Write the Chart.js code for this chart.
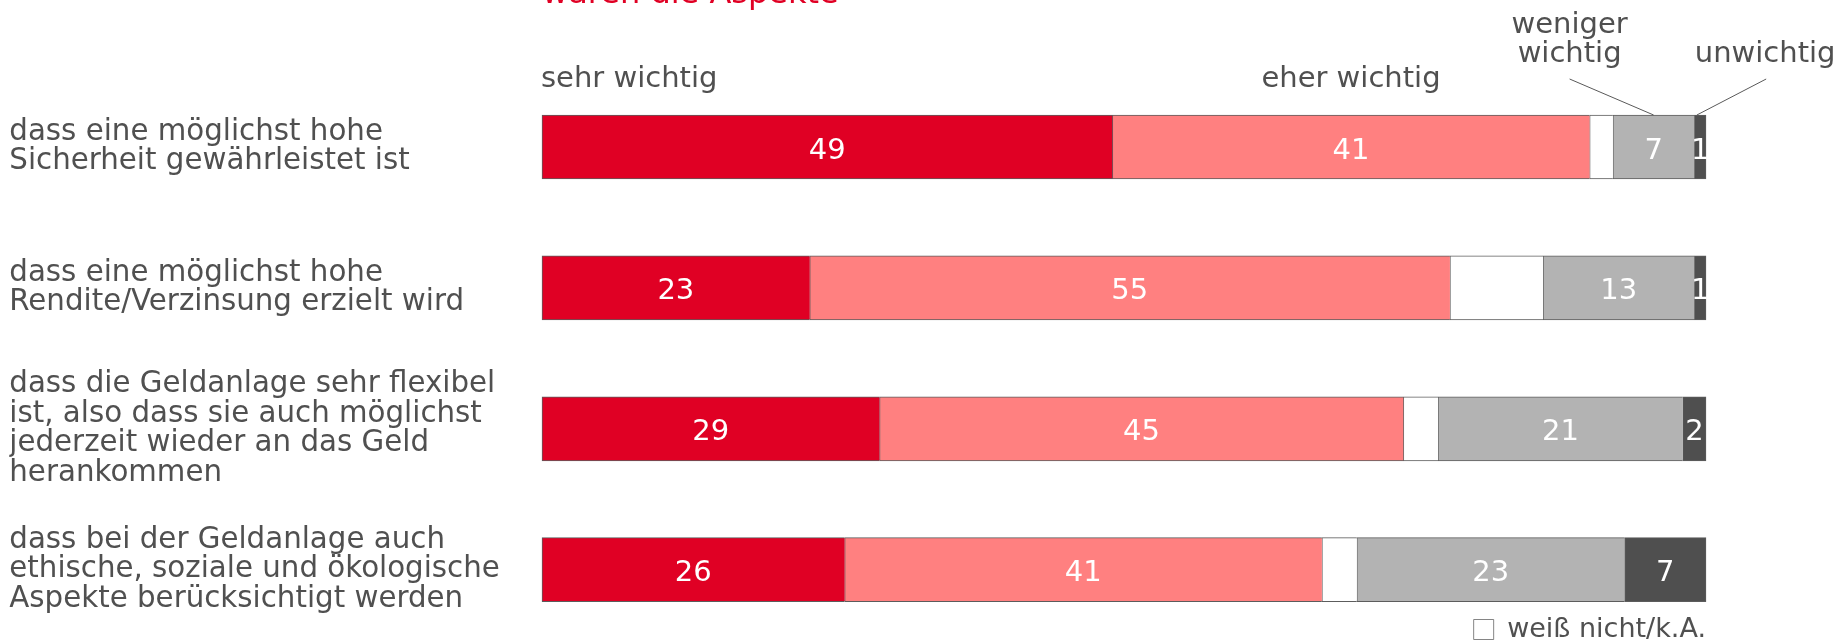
<!DOCTYPE html>
<html lang="de">
<head>
<meta charset="utf-8">
<title>Wichtigkeit der Aspekte bei der Geldanlage</title>
<script src="https://cdn.jsdelivr.net/npm/chart.js@4/dist/chart.umd.min.js"></script>
<style>
  html, body { margin: 0; padding: 0; background: #ffffff; overflow: hidden; width: 1839px; height: 642px; }
  /* the canvas starts above the page edge, so the first title line stays cut off */
  #wrap { position: absolute; left: 0; top: -40px; width: 1839px; height: 700px; }
</style>
</head>
<body>
<div id="wrap"><canvas id="chart" width="1839" height="700"></canvas></div>
<script>
// ---- data ----
const categories = [
  ['dass eine möglichst hohe', 'Sicherheit gewährleistet ist'],
  ['dass eine möglichst hohe', 'Rendite/Verzinsung erzielt wird'],
  ['dass die Geldanlage sehr flexibel', 'ist, also dass sie auch möglichst', 'jederzeit wieder an das Geld', 'herankommen'],
  ['dass bei der Geldanlage auch', 'ethische, soziale und ökologische', 'Aspekte berücksichtigt werden']
];
const seriesNames = ['sehr wichtig', 'eher wichtig', 'weiß nicht/k.A.', 'weniger wichtig', 'unwichtig'];
const sehrWichtig    = [49, 23, 29, 26];
const eherWichtig    = [41, 55, 45, 41];
const weissNicht     = [2, 8, 3, 3];
const wenigerWichtig = [7, 13, 21, 23];
const unwichtig      = [1, 1, 2, 7];
const titleText = 'waren die Aspekte';

// ---- styles ----
const FONT = '"DejaVu Sans", Verdana, sans-serif';
const TEXT = '#505050';
const EDGE = '#5c5c5c';
const colors = ['#E00024', '#FF8080', '#FFFFFF', '#B3B3B3', '#4F4F4F'];

Chart.defaults.font.family = FONT;
Chart.defaults.color = TEXT;

// value labels inside the segments, series headers and leader lines
const segmentAnnotations = {
  id: 'segmentAnnotations',
  afterDatasetsDraw(chart) {
    const ctx = chart.ctx;
    ctx.save();

    ctx.font = '29px ' + FONT;
    ctx.fillStyle = '#FFFFFF';
    ctx.textAlign = 'center';
    ctx.textBaseline = 'alphabetic';
    chart.data.datasets.forEach((ds, di) => {
      if (ds.showValues === false) return;
      chart.getDatasetMeta(di).data.forEach((bar, i) => {
        const cx = (bar.x + bar.base) / 2;
        ctx.fillText(String(ds.data[i]), cx, bar.y + 11.5);
      });
    });

    const firstBar = di => chart.getDatasetMeta(di).data[0];
    const mid = b => (b.x + b.base) / 2;
    const top = b => b.y - b.height / 2;

    ctx.fillStyle = TEXT;
    ctx.font = '29px ' + FONT;

    const b0 = firstBar(0);
    ctx.textAlign = 'left';
    ctx.fillText(seriesNames[0], b0.base - 1, top(b0) - 28);

    const b1 = firstBar(1);
    ctx.textAlign = 'center';
    ctx.fillText(seriesNames[1], mid(b1), top(b1) - 28);

    const b3 = firstBar(3);
    const wx = mid(b3) - 84;
    ctx.fillText('weniger', wx, top(b3) - 81.7);
    ctx.fillText('wichtig', wx, top(b3) - 53.3);

    const b4 = firstBar(4);
    const ux = mid(b4) + 65;
    ctx.fillText(seriesNames[4], ux, top(b4) - 53.3);

    ctx.strokeStyle = '#595959';
    ctx.lineWidth = 1;
    ctx.beginPath();
    ctx.moveTo(wx, top(b3) - 36);
    ctx.lineTo(mid(b3), top(b3));
    ctx.moveTo(ux + 1, top(b4) - 36);
    ctx.lineTo(b4.base + 2.5, top(b4));
    ctx.stroke();

    ctx.restore();
  }
};

const seriesData = [sehrWichtig, eherWichtig, weissNicht, wenigerWichtig, unwichtig];

new Chart(document.getElementById('chart'), {
  type: 'bar',
  data: {
    labels: categories,
    datasets: seriesData.map((values, i) => ({
      label: seriesNames[i],
      data: values,
      backgroundColor: colors[i],
      borderColor: EDGE,
      borderWidth: { top: 1, bottom: 1, left: 1, right: i === 4 ? 1 : 0 },
      borderSkipped: false,
      barThickness: 64,
      clip: false,
      showValues: i !== 2
    }))
  },
  options: {
    indexAxis: 'y',
    responsive: false,
    animation: false,
    events: [],
    layout: { padding: { top: 0, left: 9.3, right: 133, bottom: 7 } },
    scales: {
      x: {
        stacked: true,
        min: 0,
        max: 100,
        grid: { display: false },
        border: { display: false },
        ticks: { display: false },
        afterFit: s => { s.height = 46.3; }
      },
      y: {
        stacked: true,
        offset: false,
        grid: { display: false },
        border: { display: false },
        ticks: {
          autoSkip: false,
          crossAlign: 'far',
          color: TEXT,
          font: { family: FONT, size: 29.3, lineHeight: '29.5px' }
        },
        afterFit: s => { s.width = 532.7; }
      }
    },
    plugins: {
      title: {
        display: true,
        text: titleText,
        align: 'start',
        fullSize: false,
        color: '#E00024',
        font: { family: FONT, size: 32, weight: 'normal', lineHeight: 1.2 },
        padding: { top: 15.7, bottom: 132.9 }
      },
      legend: {
        position: 'bottom',
        align: 'end',
        labels: {
          filter: item => item.text === seriesNames[2],
          boxWidth: 20,
          boxHeight: 20,
          padding: 0,
          color: TEXT,
          font: { family: FONT, size: 27 }
        }
      },
      tooltip: { enabled: false }
    }
  },
  plugins: [segmentAnnotations]
});
</script>
</body>
</html>
